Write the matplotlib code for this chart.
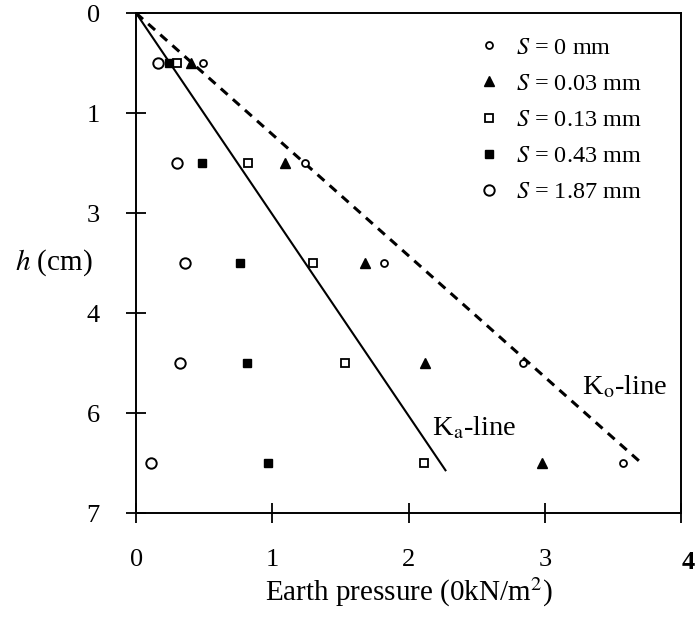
import matplotlib
matplotlib.use('Agg')
import matplotlib.pyplot as plt
from matplotlib.ticker import FormatStrFormatter

plt.rcParams['font.family'] = 'Liberation Serif'
plt.rcParams['mathtext.fontset'] = 'stix'

# Datos
depth = [0.7, 2.1, 3.5, 4.9, 6.3]
s_000 = [0.49, 1.24, 1.82, 2.84, 3.57]
s_003 = [0.40, 1.09, 1.68, 2.12, 2.98]
s_013 = [0.30, 0.82, 1.30, 1.53, 2.11]
s_043 = [0.24, 0.48, 0.76, 0.81, 0.97]
s_187 = [0.16, 0.30, 0.36, 0.32, 0.11]
ka_x = [0, 2.27]
ka_y = [0, 6.4]
ko_x = [0, 3.72]
ko_y = [0, 6.32]
x_ticks = [0, 1, 2, 3]
y_ticks = [0, 1.4, 2.8, 4.2, 5.6, 7.0]

fig = plt.figure(figsize=(6.98, 6.25), dpi=100)
ax = fig.add_axes([0.195, 0.179, 0.781, 0.8])

ax.plot(ka_x, ka_y, color='black', lw=1.5)
ax.plot(ko_x, ko_y, color='black', lw=2.2, dashes=(3, 2.3))

ax.plot(s_000, depth, 'o', ls='none', ms=5, mfc='white', mec='black', mew=1.3, label=r'$S$ = 0 mm')
ax.plot(s_003, depth, '^', ls='none', ms=6.5, color='black', label=r'$S$ = 0.03 mm')
ax.plot(s_013, depth, 's', ls='none', ms=5.5, mfc='white', mec='black', mew=1.3, label=r'$S$ = 0.13 mm')
ax.plot(s_043, depth, 's', ls='none', ms=6, color='black', label=r'$S$ = 0.43 mm')
ax.plot(s_187, depth, 'o', ls='none', ms=7.5, mfc='white', mec='black', mew=1.4, label=r'$S$ = 1.87 mm')

ax.set_xlim(0, 4)
ax.set_ylim(7, 0)
ax.set_xticks(x_ticks + [4])
ax.set_xticklabels([str(t) for t in x_ticks] + [''])
ax.set_yticks(y_ticks)
ax.yaxis.set_major_formatter(FormatStrFormatter('%.0f'))
ax.tick_params(axis='both', direction='inout', length=14, width=1.3, labelsize=19, pad=19)
ax.tick_params(axis='x', pad=19)
for sp in ax.spines.values():
    sp.set_linewidth(1.4)

ax.annotate('4', xy=(4, 0), xycoords=('data', 'axes fraction'), xytext=(5, -27),
            textcoords='offset points', ha='center', va='top', fontsize=19, fontweight='bold')

ax.text(2.17, 5.81, r'K$_\mathrm{a}$-line', fontsize=20.5, ha='left', va='center')
ax.text(3.27, 5.24, r'K$_\mathrm{o}$-line', fontsize=20.5, ha='left', va='center')

ax.set_xlabel(r'Earth pressure (0kN/m$^2$)', fontsize=21, labelpad=3)
fig.text(0.077, 1 - 263 / 625, r'$h$ (cm)', fontsize=21, ha='center', va='center')

ax.legend(loc='upper left', bbox_to_anchor=(0.603, 0.977), frameon=False, fontsize=17.5,
          borderpad=0, handlelength=1.0, handletextpad=0.6, labelspacing=0.58, numpoints=1)

fig.savefig('out.png', dpi=100, facecolor='white')
